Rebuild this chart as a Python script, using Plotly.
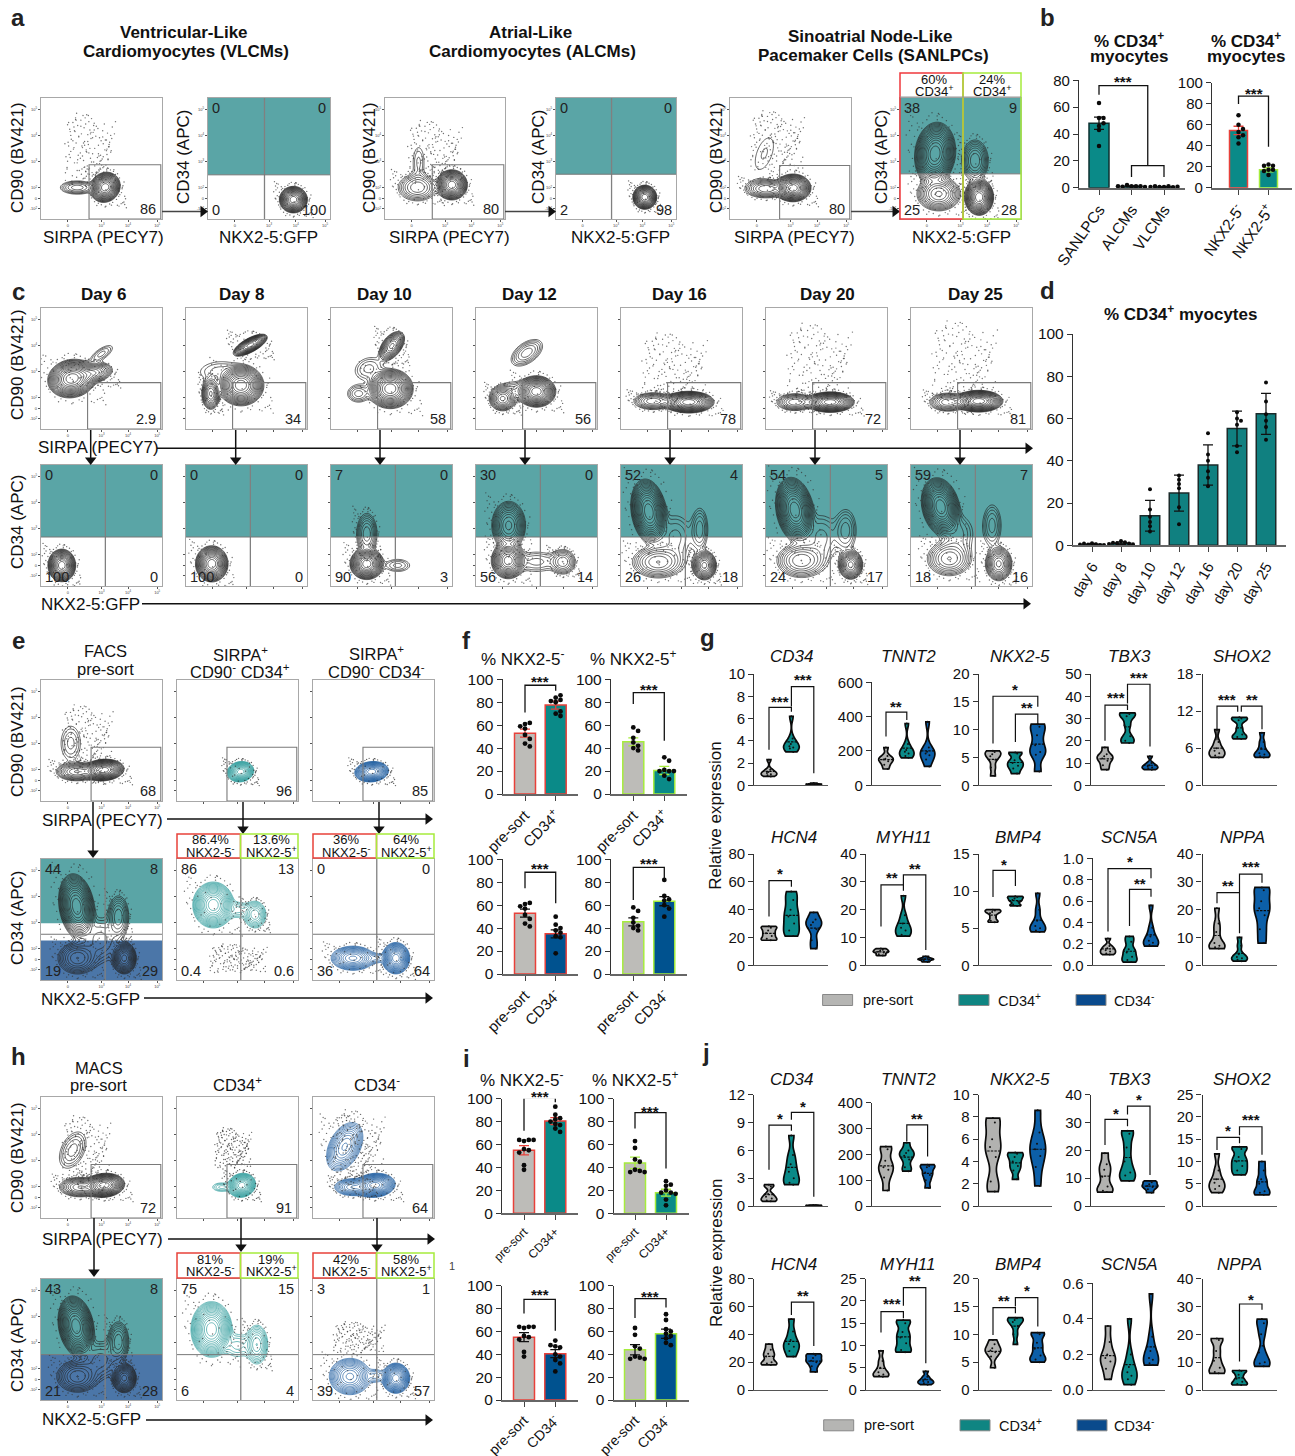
import math
import numpy as np
import plotly.graph_objects as go

W, H = 1295, 1456
FONT = "Liberation Sans"
TEAL = "#0a8a88"; BLUE = "#00528f"; GRAY = "#bdbcb8"; RED = "#e8413a"; GREEN = "#a6ec3c"
TEAL_BG = "#5aa5a6"; BLUE_BG = "#4b76a8"; TEAL_LINE = "#2f9c9c"; BLUE_LINE = "#1c5c9f"; DARK = "#222222"

# ---------- flow plots: blobs (cx, cy, rx, ry, rho, number of rings) in box fractions ----------
A1 = [(.53,.262,.125,.125,.1,14),(.30,.26,.14,.055,0,5)]
A2 = [(.70,.16,.115,.11,0,14)]
A3 = [(.557,.282,.13,.125,0,14),(.27,.26,.16,.11,0,6),(.28,.47,.045,.12,0,2)]
A4 = [(.74,.18,.10,.10,0,14)]
A5 = [(.52,.257,.15,.115,0,14),(.30,.25,.17,.075,0,7),(.284,.54,.075,.13,.5,1)]
A6 = [(.29,.54,.17,.26,.1,14),(.32,.207,.18,.14,0,9),(.654,.18,.12,.15,0,15),(.62,.483,.11,.17,0,7)]
C_TOP = [
 [(.255,.417,.20,.16,.1,14),(.42,.46,.17,.09,.3,9),(.50,.62,.09,.07,.7,3)],
 [(.454,.361,.19,.17,0,14),(.532,.694,.14,.09,.7,12),(.205,.292,.075,.13,0,9),(.26,.486,.14,.07,.2,2)],
 [(.49,.333,.19,.165,0,14),(.503,.686,.105,.12,.5,10),(.31,.5,.11,.09,.2,3),(.227,.292,.09,.07,0,4)],
 [(.50,.31,.16,.13,0,14),(.22,.25,.11,.10,0,9),(.42,.63,.13,.11,.5,5),(.33,.32,.14,.07,0,3)],
 [(.56,.222,.21,.09,0,14),(.267,.23,.16,.07,0,7)],
 [(.53,.222,.20,.085,0,14),(.24,.222,.15,.07,0,7)],
 [(.56,.23,.20,.09,0,14),(.305,.222,.15,.075,0,7)],
]
C_BOT = [
 [(.172,.17,.115,.135,0,14)],
 [(.213,.183,.135,.15,0,14)],
 [(.296,.183,.14,.13,0,14),(.296,.43,.085,.17,0,6),(.55,.17,.10,.05,0,3)],
 [(.266,.21,.14,.15,0,13),(.27,.50,.14,.20,0,10),(.72,.2,.10,.10,0,6),(.5,.2,.16,.08,0,3)],
 [(.23,.614,.15,.27,-.2,14),(.304,.197,.21,.13,0,7),(.689,.17,.10,.12,0,11),(.652,.47,.065,.17,0,4),(.45,.40,.13,.18,0,3)],
 [(.238,.628,.16,.27,-.2,14),(.29,.21,.20,.14,0,7),(.70,.175,.10,.12,0,11),(.66,.46,.085,.17,0,4),(.46,.40,.12,.18,0,3)],
 [(.245,.655,.16,.24,-.2,14),(.315,.225,.18,.14,0,7),(.725,.183,.11,.14,0,10),(.67,.50,.075,.17,0,4),(.39,.43,.12,.15,0,3)],
]
E1 = [(.517,.256,.17,.09,.1,14),(.296,.242,.17,.075,0,8),(.246,.478,.08,.14,0,3)]
E2 = [(.525,.242,.11,.085,.1,14)]
E3 = [(.485,.242,.14,.085,.1,14)]
E4 = [(.295,.608,.15,.27,-.2,14),(.30,.18,.16,.13,0,7),(.688,.18,.10,.13,0,11),(.64,.525,.085,.17,0,6),(.49,.33,.15,.18,0,4)]
E5 = [(.30,.62,.17,.19,0,14),(.645,.54,.09,.11,0,7),(.5,.58,.09,.06,0,3)]
E6 = [(.33,.18,.18,.10,0,10),(.685,.18,.115,.13,0,14),(.52,.18,.06,.035,0,3)]
H1 = [(.522,.27,.17,.10,.1,14),(.323,.255,.17,.08,0,8),(.262,.561,.11,.15,.4,4)]
H2 = [(.535,.27,.115,.10,.1,14),(.37,.255,.075,.035,0,3)]
H3 = [(.262,.589,.15,.20,.4,9),(.51,.27,.17,.10,.1,14),(.33,.255,.15,.07,0,8)]
H4 = [(.29,.61,.15,.25,-.2,14),(.30,.194,.17,.13,0,7),(.688,.18,.10,.12,0,11),(.64,.486,.085,.16,0,6),(.49,.33,.15,.15,0,4)]
H5 = [(.285,.583,.17,.23,0,14),(.66,.458,.09,.16,0,7),(.5,.45,.1,.09,0,3)]
H6 = [(.305,.194,.17,.15,0,10),(.685,.18,.115,.125,0,14),(.52,.2,.06,.05,0,3)]

# sparse event dots, hand-placed in a unit square (tall cloud) and on a unit disc (halo)
CLOUD_X = [.12,.31,.55,.72,.18,.42,.66,.88,.27,.50,.08,.36,.61,.81,.22,.46,.70,.93,.14,.39,.58,.77,.29,.52,.05,.33,.64,.85,.20,.44,.68,.96,.11,.37,.56,.79,.25,.48,.74,.16,.41,.60,.83,.30,.53,.09,.35,.67,.90,.23,.47,.72,.13,.40,.62,.87,.28,.51,.76,.19,.43,.57,.06,.34,.69,.82,.24,.49,.15,.38,.63,.91,.26,.54,.75,.10,.45,.59,.84,.21]
CLOUD_Y = [.05,.09,.04,.12,.17,.14,.21,.08,.24,.19,.28,.26,.15,.31,.34,.30,.27,.18,.41,.37,.35,.22,.44,.40,.11,.47,.33,.38,.52,.49,.43,.25,.56,.54,.46,.51,.60,.58,.39,.65,.62,.53,.45,.68,.66,.36,.72,.57,.48,.75,.71,.63,.78,.80,.69,.55,.83,.77,.59,.87,.85,.74,.42,.90,.67,.64,.93,.88,.70,.96,.82,.50,.99,.92,.76,.61,.97,.86,.73,.81]
HALO_X = [1.18,.95,.55,.1,-.4,-.85,-1.15,-1.05,-.7,-.25,.3,.75,1.08,1.25,.82,.35,-.15,-.6,-1.0,-1.25,-.9,-.45,.05,.5,.9,1.12,.68,.2,-.3,-.78,-1.1,-.95,-.55,.0,.42,1.0]
HALO_Y = [.1,.62,1.05,1.2,1.08,.75,.3,-.4,-.95,-1.15,-1.1,-.8,-.35,.35,.9,1.15,1.3,.98,.55,.05,-.7,-1.05,-1.25,-1.0,-.6,-.1,.85,1.25,1.2,.85,-.15,-.55,-1.2,-1.3,-1.18,.15]

Y_TICKS = [.903,.69,.478,.257,.168,.083]
Y_TICK_TXT = ["10<sup>5</sup>","10<sup>4</sup>","10<sup>3</sup>","10<sup>2</sup>","0","-10<sup>2</sup>"]
X_TICKS = [.221,.50,.72,.96]
X_TICK_TXT = ["0","10<sup>3</sup>","10<sup>4</sup>","10<sup>5</sup>"]

# ---------- bar data ----------
B1_CATS = ["SANLPCs","ALCMs","VLCMs"]; B1_VALS = [48,1,.5]; B1_ERR = [4.5,.3,.3]
B1_PTS = [[63,52,52,46,43,48,31],[1,1,2,1,.8,.5,1],[.5,1,.6,.4,1,.7,.5]]
B2_CATS = ["NKX2-5<sup>-</sup>","NKX2-5<sup>+</sup>"]; B2_VALS = [54.5,17]; B2_ERR = [4,2]
B2_PTS = [[69,60,53,50,48,56,42],[22,21,21,17,17,16,12]]
D_CATS = ["day 6","day 8","day 10","day 12","day 16","day 20","day 25"]
D_VALS = [.5,1,14,24.7,38,55.3,62.2]; D_ERR = [.4,.6,7.3,8.5,9.5,8.2,9.7]
D_PTS = [[1,.5,.3,.2,.8,.1,.4],[2,1.5,1,.8,1.2,.5,.6],[26.5,17,13.5,11,9,6.5],[33,31,29,27,18,10],[53,43,40,35,32,28],[63,60,59,57,47,44],[77,68,62,59,56,50]]

F_PRE_NEG = [61,62,59,57,51.5,48,44,41.5]; F_PRE_POS = [58,55,49,45,42,40,38]
F_VALS = [[53,77.5],[45.5,20.5],[53,35],[45.5,63.5]]
F_ERR = [[3.5,3.5],[3.5,3.5],[3.5,3.5],[3.5,4]]
F_PTS = [[F_PRE_NEG,[84,82,86,81,80,70,68,72]],[F_PRE_POS,[32,29,21,20,20,16,13,20]],
         [F_PRE_NEG,[50,43,40,38,36,33,32,18]],[F_PRE_POS,[82,68,64,65,60,57,50]]]
F_BRK = [(94.8,71,90,100.3),(88.4,78.5,46.5,93.6),(88.7,74.7,61.6,94.2),(93,64.5,82.5,98.8)]
I_PRE_NEG = [63,64,64,64,56,55,53,42,38]; I_PRE_POS = [63,57,47,45,38,37,36,36]
I_VALS = [[55,80.5],[44,18],[55,40.5],[44,58]]
I_ERR = [[4,3],[5,3],[4,3.5],[4.5,4]]
I_PTS = [[I_PRE_NEG,[93,86,83,82,80,78,77,74,71]],[I_PRE_POS,[28,25,24,20,18,18,17,12,7]],
         [I_PRE_NEG,[52,47,46,48,40,38,35,32,25]],[I_PRE_POS,[75,70,62,60,58,56,54,50,48]]]
I_BRK = [(100.9,72,97,104.6),(87.8,74,39,91.6),(88,75.6,60.5,94.5),(88.7,71.8,81,93)]

# ---------- violin data: gene -> (axis max, ticks, [pre-sort, CD34+, CD34-]) ----------
G_DATA = {
 "CD34":(10,[0,2,4,6,8,10],[[.8,.9,1.0,1.1,1.2,1.4,2.3],[3.0,3.3,3.4,3.5,3.7,4.2,6.2],[.03,.05,.08,.1,.1,.12,.2]]),
 "TNNT2":(600,[0,200,400,600],[[95,120,140,150,155,170,220],[160,170,185,195,205,240,360],[110,150,175,185,195,220,370]]),
 "NKX2-5":(20,[0,5,10,15,20],[[1.7,3.2,4.6,5.2,5.6,6.0,6.2],[2.1,3.0,3.5,4.0,4.5,5.7,5.9],[2.5,5.5,6,7.2,9,10.5,11]]),
 "TBX3":(50,[0,10,20,30,40,50],[[7,9,11,12,13,14,17],[19,20,22,27,31,32,32.5],[7,7.5,8,8.5,9,10,13]]),
 "SHOX2":(18,[0,6,12,18],[[4.5,4.8,5.2,5.6,6,7,9],[7.5,7.8,8.2,9.2,10.5,10.8,11],[4.5,4.7,5,5.2,6,7,8.5]]),
 "HCN4":(80,[0,20,40,60,80],[[18,19,21,23,25,27,28],[21,25,30,35,40,47,53],[12,18,26,29,31,33,38]]),
 "MYH11":(40,[0,10,20,30,40],[[3.5,4,4.6,4.9,5.2,5.6,6],[10.5,11,12.5,13.5,15,18,25],[1.2,1.6,2,2.2,2.3,2.6,3.2]]),
 "BMP4":(15,[0,5,10,15],[[5.8,6,6.5,7,7.2,7.4,7.5],[8,8.2,8.6,8.8,9,9.2,9.3],[4.5,4.7,5,5.3,6,7.5,9.7]]),
 "SCN5A":(1.0,[0,.2,.4,.6,.8,1.0],[[.1,.11,.13,.14,.16,.18,.25],[.03,.05,.08,.12,.15,.22,.27],[.18,.19,.21,.23,.27,.35,.56]]),
 "NPPA":(40,[0,10,20,30,40],[[6,6.5,7,8,12,15,20.5],[1.5,2,2.5,3,4,7,10],[8,13,18,20.5,23,27,28]]),
}
J_DATA = {
 "CD34":(12,[0,3,6,9,12],[[.5,.6,.8,1,1.3,2.1,2.3],[2.3,2.5,3,3.7,4.5,5.5,7.6],[.02,.04,.05,.06,.07,.08,.1]]),
 "TNNT2":(400,[0,100,200,300,400],[[60,110,140,150,175,220,230],[135,150,180,195,205,215,245],[70,100,120,130,150,155,160]]),
 "NKX2-5":(10,[0,2,4,6,8,10],[[1.3,2.2,4.4,5.3,6,7.5,7.9],[2.4,3.2,3.6,4,4.4,4.7,4.8],[1.8,3.5,4.5,5.1,5.6,6.6,8.6]]),
 "TBX3":(40,[0,10,20,30,40],[[5,5.5,7,10.5,13,15,19],[9,11,12,16,21,26,27],[4.8,6,6.8,7.2,7.8,8.5,9]]),
 "SHOX2":(25,[0,5,10,15,20,25],[[3,3.8,4.5,5.2,6,8,11.7],[7,8,9,10,11,12.8,13.3],[2.5,3,3.3,5,6,8,10]]),
 "HCN4":(80,[0,20,40,60,80],[[18,19,20,24,26,29,33],[24,28,31,33,36,42,51],[13,17,20,21,23,25,26]]),
 "MYH11":(25,[0,5,10,15,20,25],[[3,3.2,3.5,4,5,6.5,8.8],[8.5,9,10.5,11.8,13,15,15.7],[1.2,1.5,1.8,2,2.4,3,4.2]]),
 "BMP4":(20,[0,5,10,15,20],[[4,6,6.8,7.1,7.5,8.2,9],[8.2,10,11.5,12.2,12.6,12.9,13],[5,5.5,6.2,7.4,8.5,10,10.3]]),
 "SCN5A":(.6,[0,.2,.4,.6],[[.06,.12,.16,.18,.2,.27,.36],[.03,.06,.08,.1,.13,.2,.4],[.14,.15,.17,.18,.22,.3,.54]]),
 "NPPA":(40,[0,10,20,30,40],[[6,6.5,8,10.5,14,18,18.5],[1.8,2.2,3,4,5.5,6.8,7],[8.5,9.5,10,13.5,20,24,25.5]]),
}
# brackets: (x1, x2, top, left leg end, right leg end, stars, star value)
G_BRK = {
 "CD34":[(1,2,7.0,3.2,6.6,"***",7.8),(2,3,8.86,7.07,1.08,"***",9.8)],
 "TNNT2":[(1,2,426,284,381,"**",478)],
 "NKX2-5":[(1,3,16,7.5,14.1,"*",17.8),(2,3,12.8,7.8,10.8,"**",14.6)],
 "TBX3":[(1,2,36,20,33.8,"***",40.9),(2,3,45.4,36.8,17.4,"***",49.9)],
 "SHOX2":[(1,1.92,12.8,7.3,11.9,"***",14.4),(2.08,3,12.8,11.9,9.05,"**",14.4)],
 "HCN4":[(1,2,60.8,35,56.5,"*",67.8)],
 "MYH11":[(1,2,28.9,13.9,26.8,"**",32.5),(2,3,32.5,28.9,5.5,"**",36)],
 "BMP4":[(1,2,12.8,9.2,10.7,"*",14)],
 "SCN5A":[(1,3,.903,.315,.813,"*",.994),(2,3,.71,.368,.64,"**",.79)],
 "NPPA":[(1,2,26.1,22.3,11.5,"**",29.7),(2,3,32.8,26.3,29.7,"***",36.6)],
}
J_BRK = {
 "CD34":[(1,2,8.73,3.9,8.1,"*",9.8),(2,3,10.1,9.3,1,"*",11.1)],
 "TNNT2":[(2,3,314,250,192,"**",350)],
 "NKX2-5":[],
 "TBX3":[(1,2,31.1,21.9,28.7,"*",34.5),(2,3,35.9,32.9,11.1,"*",39.5)],
 "SHOX2":[(1,2,15.4,12.6,14.1,"*",17.6),(2,3,17.8,15.9,11.5,"***",20)],
 "HCN4":[(2,3,63.2,53.9,31.6,"**",70)],
 "MYH11":[(1,2,17.6,12.9,16.1,"***",20),(2,3,23,18.9,6,"**",25.2)],
 "BMP4":[(1,2,14.8,9.9,13.8,"**",16.6),(2,3,16.6,15,11.4,"*",18.4)],
 "SCN5A":[],
 "NPPA":[(2,3,30.9,10.2,28.8,"*",33.5)],
}

fig = go.Figure()
layout = {}
shapes = []
annots = []
arrows = []
axn = [1]

def X(p): return p / W
def Y(p): return 1 - p / H

def new_axes(x0, x1, ytop, ybot, xax, yax):
    axn[0] += 1
    n = axn[0]
    xa = dict(domain=[X(x0), X(x1)], anchor=f"y{n}", layer="above traces")
    xa.update(xax)
    ya = dict(domain=[Y(ybot), Y(ytop)], anchor=f"x{n}", layer="above traces")
    ya.update(yax)
    layout[f"xaxis{n}"] = xa
    layout[f"yaxis{n}"] = ya
    return f"x{n}", f"y{n}"

def txt(x, y, s, size=16, bold=False, color="#111", angle=0, anchor="center", italic=False):
    if bold: s = f"<b>{s}</b>"
    if italic: s = f"<i>{s}</i>"
    annots.append(dict(x=X(x), y=Y(y), xref="paper", yref="paper", text=s, showarrow=False,
                       font=dict(size=size, color=color, family=FONT), textangle=angle,
                       xanchor=anchor, yanchor="middle", align="center"))

def arrow(x0, y0, x1, y1, color="#111", width=1.5):
    arrows.append((x0, y0, x1, y1, color, width))

def rect_paper(x0, y0, x1, y1, line, fill="rgba(0,0,0,0)", width=1.5):
    shapes.append(dict(type="rect", xref="paper", yref="paper", x0=X(x0), x1=X(x1), y0=Y(y1), y1=Y(y0),
                       line=dict(color=line, width=width), fillcolor=fill, layer="above"))

GRID = np.linspace(0, 1, 110)
STEP = .33; START = -4.6; DRAW_STEP = .29

def density(blobs):
    gx, gy = np.meshgrid(GRID, GRID)
    total = np.zeros_like(gx)
    for cx, cy, rx, ry, rho, rings in blobs:
        k = math.sqrt(2 * rings * STEP)
        sx, sy = rx / k, ry / k
        u, v = (gx - cx) / sx, (gy - cy) / sy
        total += math.exp(START + rings * STEP) * np.exp(-(u*u - 2*rho*u*v + v*v) / (2 * (1 - rho*rho)))
    return np.log(total + 1e-12)

def flow(box, ytop, blobs, labels, color=DARK, kind="gate", gate=(.39,.445), split=(.53,.38), bg=None,
         cloud=None, ticklabels=True, width=.7, halo="#333"):
    x0, x1 = box
    ybot = ytop + 121
    kw = dict(range=[0,1], showgrid=False, zeroline=False, showline=True, mirror=True, linecolor="#a8a8a8",
              linewidth=1.3, ticks="outside", ticklen=2, tickwidth=.7, tickcolor="#555",
              showticklabels=ticklabels, tickfont=dict(size=4, color="#444"))
    xa = dict(kw, tickvals=X_TICKS, ticktext=X_TICK_TXT)
    ya = dict(kw, tickvals=Y_TICKS, ticktext=Y_TICK_TXT)
    xr, yr = new_axes(x0, x1, ytop, ybot, xa, ya)
    if bg:
        for (a, b, c) in bg:
            shapes.append(dict(type="rect", xref=xr, yref=yr, x0=0, x1=1, y0=a, y1=b, fillcolor=c,
                               line=dict(width=0), layer="below"))
    dx, dy = [], []
    if cloud:
        ca, cb, cc, cd = cloud
        dx += [ca + (cb - ca) * v for v in CLOUD_X] + [ca + (cb - ca) * v for v in CLOUD_Y]
        dy += [cc + (cd - cc) * v for v in CLOUD_Y] + [cc + (cd - cc) * v for v in reversed(CLOUD_X)]
    for cx, cy, rx, ry, rho, rings in blobs:
        if rings >= 6:
            dx += [cx + rx * v for v in HALO_X] + [cx + 1.08 * rx * v for v in HALO_Y]
            dy += [cy + ry * v for v in HALO_Y] + [cy + 1.08 * ry * v for v in reversed(HALO_X)]
    fig.add_trace(go.Scatter(x=dx, y=dy, mode="markers", xaxis=xr, yaxis=yr, hoverinfo="skip", showlegend=False,
                             marker=dict(size=1.4, color=halo, opacity=.7, line=dict(width=0))))
    fig.add_trace(go.Contour(x=GRID, y=GRID, z=density(blobs), xaxis=xr, yaxis=yr, showscale=False, hoverinfo="skip",
                             contours=dict(coloring="none", start=START, end=.1, size=DRAW_STEP),
                             line=dict(color=color, width=width, smoothing=1)))
    if kind == "gate":
        gx, gy = gate
        shapes.append(dict(type="rect", xref=xr, yref=yr, x0=gx, x1=.99, y0=0, y1=gy,
                           line=dict(color="#7a7a7a", width=1.1), layer="above"))
        annots.append(dict(x=.97, y=.085, xref=xr, yref=yr, text=labels, showarrow=False, xanchor="right",
                           yanchor="middle", font=dict(size=14.5, color="#222", family=FONT)))
    else:
        sx, sy = split
        shapes.append(dict(type="line", xref=xr, yref=yr, x0=sx, x1=sx, y0=0, y1=1,
                           line=dict(color="#808080", width=1.3), layer="above"))
        shapes.append(dict(type="line", xref=xr, yref=yr, x0=0, x1=1, y0=sy, y1=sy,
                           line=dict(color="#777", width=1), layer="above"))
        pos = [(.02,.92,"left"),(.98,.92,"right"),(.02,.075,"left"),(.98,.075,"right")]
        for (lx, ly, an), t in zip(pos, labels):
            annots.append(dict(x=lx, y=ly, xref=xr, yref=yr, text=t, showarrow=False, xanchor=an, yanchor="middle",
                               font=dict(size=14.5, color="#222", family=FONT)))

def swarm(vals, ppu, pxu, gap=4.6):
    placed = []
    out = []
    for v in vals:
        for k in range(0, 12):
            off = ((k + 1) // 2) * (1 if k % 2 else -1) * gap
            if all((off - o)**2 + ((v - w) * ppu)**2 >= gap * gap * .8 for o, w in placed):
                break
        placed.append((off, v))
        out.append(off / pxu)
    return out

def bar_panel(ax0, ax1, ytop, ybase, vmax, ticks, centers, bw, cats, vals, errs, pts, fills, outlines, errcols,
              tickfont=14, catfont=15, angle=-50, dot=5, axis_col="#333"):
    sp = centers[1] - centers[0]
    rng = [(ax0 - centers[0]) / sp + 1, (ax1 - centers[0]) / sp + 1]
    xa = dict(range=rng, type="linear", tickvals=list(range(1, len(cats) + 1)), ticktext=cats, tickangle=angle,
              showgrid=False, zeroline=False, showline=True, linecolor="#666", linewidth=1.6, ticks="outside",
              ticklen=5, tickwidth=1.2, tickcolor="#444", tickfont=dict(size=catfont, color="#111", family=FONT))
    ya = dict(range=[0, vmax], type="linear", tickvals=ticks, showgrid=False, zeroline=False, showline=True,
              linecolor=axis_col, linewidth=1.3, ticks="outside", ticklen=5, tickwidth=1.2, tickcolor=axis_col,
              tickfont=dict(size=tickfont, color="#111", family=FONT))
    xr, yr = new_axes(ax0, ax1, ytop, ybase, xa, ya)
    ppu = (ybase - ytop) / vmax
    for i, c in enumerate(cats):
        fig.add_trace(go.Bar(x=[i + 1], y=[vals[i]], width=bw / sp, xaxis=xr, yaxis=yr, showlegend=False, hoverinfo="skip",
                             marker=dict(color=fills[i], line=dict(color=outlines[i], width=1.5)), cliponaxis=False,
                             error_y=dict(type="data", array=[errs[i]], color=errcols[i], thickness=1.3, width=5)))
        off = swarm(pts[i], ppu, sp, gap=dot)
        fig.add_trace(go.Scatter(x=[i + 1 + o for o in off], y=pts[i], mode="markers", xaxis=xr, yaxis=yr, hoverinfo="skip",
                                 showlegend=False, cliponaxis=False, marker=dict(size=dot, color="#0a0a0a")))
    return xr, yr

def to_paper(xr, yr, x, y):
    xa = layout["xaxis" + xr[1:]]; ya = layout["yaxis" + yr[1:]]
    px = xa["domain"][0] + (x - xa["range"][0]) / (xa["range"][1] - xa["range"][0]) * (xa["domain"][1] - xa["domain"][0])
    py = ya["domain"][0] + (y - ya["range"][0]) / (ya["range"][1] - ya["range"][0]) * (ya["domain"][1] - ya["domain"][0])
    return px, py

def bracket(xr, yr, x1, x2, top, l, r, stars, sy, size=15, width=1.3):
    fig.add_trace(go.Scatter(x=[x1, x1, x2, x2], y=[l, top, top, r], mode="lines", xaxis=xr, yaxis=yr, hoverinfo="skip",
                             showlegend=False, cliponaxis=False, line=dict(color="#111", width=width)))
    if stars:
        px, py = to_paper(xr, yr, (x1 + x2) / 2, sy)
        annots.append(dict(x=px, y=py, xref="paper", yref="paper", text=f"<b>{stars}</b>", showarrow=False, yshift=-3,
                           xanchor="center", yanchor="middle", font=dict(size=size, color="#111", family=FONT)))

# ---------- panel a ----------
txt(184, 32, "Ventricular-Like", 17, True); txt(186, 52, "Cardiomyocytes (VLCMs)", 17, True)
txt(530, 32, "Atrial-Like", 17, True); txt(532, 52, "Cardiomyocytes (ALCMs)", 17, True)
txt(870, 36, "Sinoatrial Node-Like", 17, True); txt(873, 56, "Pacemaker Cells (SANLPCs)", 17, True)
CA = (.18,.62,.25,.88)
flow((41,162),98,A1,"86",cloud=CA,gate=(.397,.448))
flow((208,330),98,A2,["0","0","0","100"],kind="quad",split=(.463,.365),bg=[(.365,1,TEAL_BG)])
flow((385,505),98,A3,"80",cloud=(.17,.65,.28,.82),gate=(.394,.448))
flow((556,676),98,A4,["0","0","2","98"],kind="quad",split=(.463,.37),bg=[(.37,1,TEAL_BG)])
flow((730,851),98,A5,"80",cloud=(.15,.62,.38,.9),gate=(.41,.442))
flow((900,1021),98,A6,["38","9","25","28"],kind="quad",split=(.522,.373),bg=[(.373,1,TEAL_BG)])
rect_paper(900,73,963,219,"#f0383c"); rect_paper(963,73,1021,219,GREEN)
shapes.append(dict(type="line",xref="paper",yref="paper",x0=X(900),x1=X(1021),y0=Y(97),y1=Y(97),line=dict(color="#999",width=1),layer="above"))
txt(934,79,"60%",13); txt(934,91,"CD34<sup>+</sup>",13); txt(992,79,"24%",13); txt(992,91,"CD34<sup>+</sup>",13)
for x, y, s, ang in [(17,158,"CD90 (BV421)",-90),(183,157,"CD34 (APC)",-90),(369,158,"CD90 (BV421)",-90),(538,157,"CD34 (APC)",-90),
                     (716,158,"CD90 (BV421)",-90),(881,157,"CD34 (APC)",-90)]:
    txt(x,y,s,17,angle=ang)
for x, s in [(103,"SIRPA (PECY7)"),(268,"NKX2-5:GFP"),(449,"SIRPA (PECY7)"),(620,"NKX2-5:GFP"),(794,"SIRPA (PECY7)"),(961,"NKX2-5:GFP")]:
    txt(x,238,s,17)
for a, b in [(162,208),(505,556),(851,900)]:
    arrow(a,211.5,b,211.5,"#444",1.4)

# ---------- panel b ----------
txt(1129,40,"% CD34<sup>+</sup>",17,True); txt(1129,57,"myocytes",17,True)
txt(1246,40,"% CD34<sup>+</sup>",17,True); txt(1246,57,"myocytes",17,True)
r = bar_panel(1079,1185,80.3,187.7,80,[0,20,40,60,80],[1099,1131.5,1163],20,B1_CATS,B1_VALS,B1_ERR,B1_PTS,
              [TEAL,TEAL,TEAL],["#0d2f2f"]*3,["#111"]*3,tickfont=15,catfont=15.5,angle=-55,dot=4.5)
bracket(*r,1,2.5,76,69.3,16.4,"***",81.5,size=15)
bracket(*r,2,3,16.4,8,8,"",0)
r = bar_panel(1212,1292,82.7,187.7,100,[0,20,40,60,80,100],[1238.5,1268.5],18,B2_CATS,B2_VALS,B2_ERR,B2_PTS,
              [TEAL,TEAL],[RED,GREEN],[RED,GREEN],tickfont=15,catfont=15.5,angle=-55,dot=4.5)
bracket(*r,1,2,87.3,79.7,39,"***",92.5)

# ---------- panel c ----------
C_X = [(41,162),(186,307),(331,452),(476,597),(621,742),(766,887),(911,1032)]
C_TOP_LBL = ["2.9","34","58","56","78","72","81"]
C_BOT_LBL = [["0","0","100","0"],["0","0","100","0"],["7","0","90","3"],["30","0","56","14"],["52","4","26","18"],["54","5","24","17"],["59","7","18","16"]]
DAY_T = ["Day 6","Day 8","Day 10","Day 12","Day 16","Day 20","Day 25"]
DAY_CX = [103,241,384,529,680,827,975]
CLOUDS = [None,None,None,None,(.15,.72,.22,.8),(.15,.72,.22,.88),(.15,.72,.22,.9)]
ARX = [90.7,235.7,380,525,670,815,960]
for i in range(7):
    flow(C_X[i],308,C_TOP[i],C_TOP_LBL[i],cloud=CLOUDS[i],gate=(.385,.383),ticklabels=i==0)
    flow(C_X[i],465,C_BOT[i],C_BOT_LBL[i],kind="quad",split=(.532,.405),bg=[(.405,1,TEAL_BG)],ticklabels=i==0)
    txt(DAY_CX[i],295,DAY_T[i],17,True)
    arrow(ARX[i],430,ARX[i],465)
txt(17,365,"CD90 (BV421)",17,angle=-90); txt(17,522,"CD34 (APC)",17,angle=-90)
txt(99,447,"SIRPA (PECY7)",17); txt(90,604,"NKX2-5:GFP",17)
arrow(157,448.3,1033,448.3); arrow(142,603.7,1031,603.7)

# ---------- panel d ----------
txt(1180.6,313,"% CD34<sup>+</sup> myocytes",17,True)
bar_panel(1073,1286,334,545.3,100,[0,20,40,60,80,100],[1092,1121,1149.6,1178,1207,1236,1264],19.5,D_CATS,D_VALS,D_ERR,D_PTS,
          ["#108080"]*7,["#1b2b2b"]*7,["#111"]*7,tickfont=15.5,catfont=15,angle=-60,dot=4)

# ---------- panel e ----------
txt(105,651,"FACS",16.5); txt(105,669,"pre-sort",16.5)
txt(240,654,"SIRPA<sup>+</sup>",16.5); txt(240,671,"CD90<sup>-</sup> CD34<sup>+</sup>",16.5)
txt(376,653,"SIRPA<sup>+</sup>",16.5); txt(376,671,"CD90<sup>-</sup> CD34<sup>-</sup>",16.5)
R1 = [(41,162),(177,298),(313,434)]
flow(R1[0],680,E1,"68",cloud=(.16,.6,.28,.8),gate=(.414,.444))
flow(R1[1],680,E2,"96",color=TEAL_LINE,gate=(.413,.444),ticklabels=False,halo="#222")
flow(R1[2],680,E3,"85",color=BLUE_LINE,gate=(.413,.444),ticklabels=False,halo="#222")
flow(R1[0],859,E4,["44","8","19","29"],kind="quad",split=(.53,.378),bg=[(.47,1,TEAL_BG),(0,.326,BLUE_BG)])
flow(R1[1],859,E5,["86","13","0.4","0.6"],color=TEAL_LINE,kind="quad",split=(.527,.378),ticklabels=False,cloud=(.25,.75,.05,.3))
flow(R1[2],859,E6,["0","0","36","64"],color=BLUE_LINE,kind="quad",split=(.527,.378),ticklabels=False)
def headers(yt, yb, t):
    rect_paper(177,yt,240.5,yb,RED); rect_paper(240.5,yt,298,yb,GREEN)
    rect_paper(313,yt,376.5,yb,RED); rect_paper(376.5,yt,434,yb,GREEN)
    for cx, a, b in zip([210,271,346,406], t, ["NKX2-5<sup>-</sup>","NKX2-5<sup>+</sup>"]*2):
        txt(cx,yt+6,a,13); txt(cx,yt+18,b,13)
headers(834,858,["86.4%","13.6%","36%","64%"])
txt(17,742,"CD90 (BV421)",17,angle=-90); txt(17,918,"CD34 (APC)",17,angle=-90)
txt(102,820,"SIRPA (PECY7)",17); txt(90,999,"NKX2-5:GFP",17)
arrow(93,802,93,858); arrow(243,802,243,834); arrow(379,802,379,834)
arrow(167,819,433,819); arrow(144,998,433,998)

# ---------- panel h ----------
txt(99,1068,"MACS",16.5); txt(99,1085,"pre-sort",16.5); txt(237,1084,"CD34<sup>+</sup>",16.5); txt(377,1084,"CD34<sup>-</sup>",16.5)
flow(R1[0],1097,H1,"72",cloud=(.16,.58,.3,.85),gate=(.414,.442))
flow(R1[1],1097,H2,"91",color=TEAL_LINE,gate=(.413,.442),ticklabels=False,cloud=(.3,.62,.4,.75),halo="#222")
flow(R1[2],1097,H3,"64",color=BLUE_LINE,gate=(.413,.442),ticklabels=False,cloud=(.15,.6,.35,.9))
flow(R1[0],1279,H4,["43","8","21","28"],kind="quad",split=(.53,.375),bg=[(.375,1,TEAL_BG),(0,.375,BLUE_BG)])
flow(R1[1],1279,H5,["75","15","6","4"],color=TEAL_LINE,kind="quad",split=(.527,.375),ticklabels=False)
flow(R1[2],1279,H6,["3","1","39","57"],color=BLUE_LINE,kind="quad",split=(.527,.375),ticklabels=False,cloud=(.15,.6,.38,.65))
headers(1253,1278,["81%","19%","42%","58%"])
txt(17,1158,"CD90 (BV421)",17,angle=-90); txt(17,1345,"CD34 (APC)",17,angle=-90)
txt(102,1239,"SIRPA (PECY7)",17); txt(92,1419,"NKX2-5:GFP",17)
arrow(94,1218,94,1277); arrow(241,1218,241,1252); arrow(377,1218,377,1252)
arrow(168,1239,435,1239); arrow(146,1420,433,1420)
txt(452,1266,"1",11,color="#444")

# ---------- panels f / i ----------
def bars4(px_left, rows, vals, errs, pts, brks, cats_top, cats_bot, catfont_top, catfont_bot):
    fills = [[GRAY,TEAL],[GRAY,TEAL],[GRAY,BLUE],[GRAY,BLUE]]
    outl = [[RED,RED],[GREEN,GREEN],[RED,RED],[GREEN,GREEN]]
    ecol = [[RED,RED],[GREEN,GREEN],["#111","#111"],["#111","#111"]]
    for k in range(4):
        row = k // 2
        ax0, ax1, c1, c2 = px_left[k % 2]
        cats = cats_top if row == 0 else cats_bot
        xr, yr = bar_panel(ax0,ax1,rows[row][0],rows[row][1],100,[0,20,40,60,80,100],[c1,c2],21,cats,vals[k],errs[k],pts[k],
                           fills[k],outl[k],ecol[k],tickfont=15.5,catfont=catfont_top if row==0 else catfont_bot,angle=-45,dot=4.8)
        t, l, rr, s = brks[k]
        bracket(xr,yr,1,2,t,l,rr,"***",s,size=15)

txt(522.7,657.5,"% NKX2-5<sup>-</sup>",17); txt(633,657.5,"% NKX2-5<sup>+</sup>",17)
bars4([(502.7,578,525,555.7),(611,687,633.3,664.3)],[(679.3,794),(859.3,974)],F_VALS,F_ERR,F_PTS,F_BRK,
      ["pre-sort","CD34<sup>+</sup>"],["pre-sort","CD34<sup>-</sup>"],15,15)
txt(521.7,1079,"% NKX2-5<sup>-</sup>",17); txt(635,1079,"% NKX2-5<sup>+</sup>",17)
bars4([(502,578,524,555.3),(613.7,689,635,666)],[(1098.7,1213.3),(1285.7,1400)],I_VALS,I_ERR,I_PTS,I_BRK,
      ["pre-sort","CD34+"],["pre-sort","CD34<sup>-</sup>"],12,14)

# ---------- panels g / j ----------
GENES = [["CD34","TNNT2","NKX2-5","TBX3","SHOX2"],["HCN4","MYH11","BMP4","SCN5A","NPPA"]]
COLS = [[(754.3,828,769,22.4),(872,940.6,886,20.8),(978.6,1052,993,22.4),(1091,1164.5,1105,22.5),(1202.5,1277,1217,22.5)],
        [(754.3,828,769,22.4),(866,940.6,881,22.4),(978.6,1052,993,22.4),(1092.8,1164.5,1108,21.5),(1202.5,1277,1217,22.5)]]
TITLE_X = [[791,908.7,1020,1129,1242],[793.7,903,1017.6,1129,1242]]
VFILL = ["#b2b2b0", "#0a8a88", "#0c5fa8"]

def violin_block(data, brk, y_rows, title_y, title_x, top_over):
    for r_i, genes in enumerate(GENES):
        ytop, ybase = y_rows[r_i]
        for c_i, g in enumerate(genes):
            ax0, ax1, c1, sp = COLS[r_i][c_i]
            vmax, ticks, groups = data[g]
            top = top_over.get(g, ytop)
            xa = dict(range=[(ax0 - c1)/sp + 1, (ax1 - c1)/sp + 1], type="linear", showgrid=False, zeroline=False,
                      showline=True, linecolor="#555", linewidth=1.4, ticks="", showticklabels=False)
            ya = dict(range=[0, vmax], type="linear", tickmode="array", tickvals=ticks,
                      ticktext=[f"{t:.1f}" for t in ticks] if vmax <= 1 else [str(t) for t in ticks],
                      showgrid=False, zeroline=False, showline=True, linecolor="#333", linewidth=1.2, ticks="outside",
                      ticklen=5, tickwidth=1.1, tickcolor="#333", tickfont=dict(size=15, color="#111", family=FONT))
            xr, yr = new_axes(ax0, ax1, top, ybase, xa, ya)
            for i, pts in enumerate(groups):
                fig.add_trace(go.Violin(y=pts, x0=i + 1, xaxis=xr, yaxis=yr, width=.7, spanmode="hard",
                                        bandwidth=(max(pts) - min(pts)) * .13, scalemode="width", side="both",
                                        fillcolor=VFILL[i], line=dict(color="#0a0a0a", width=1.7),
                                        points="all", pointpos=0, jitter=.45,
                                        marker=dict(size=2, color="#111"), showlegend=False, hoverinfo="skip",
                                        meanline=dict(visible=True, color="#0a0a0a", width=1.2), box=dict(visible=False)))
            for b in brk[g]:
                bracket(xr, yr, *b, size=15, width=1.2)
            txt(title_x[r_i][c_i], title_y[r_i], g, 17, italic=True)

violin_block(G_DATA, G_BRK, [(674,785.3),(854,965.3)], [657,837.7], TITLE_X, {"TNNT2":682.3,"SCN5A":858.3})
TITLE_J = [[791,908.7,1020,1129,1242],[793.7,907,1017.6,1129,1239.6]]
violin_block(J_DATA, J_BRK, [(1094.7,1206),(1278.7,1390)], [1079.3,1264], TITLE_J, {"TNNT2":1102.7,"SCN5A":1283.3})
txt(716,815.7,"Relative expression",17,angle=-90)
txt(716,1253,"Relative expression",17,angle=-90)

def legend(y, rects, xs):
    cols = ["#b5b5b3","#0f8582","#0a4a8c"]
    names = ["pre-sort","CD34<sup>+</sup>","CD34<sup>-</sup>"]
    for (a, b), x, c, n in zip(rects, xs, cols, names):
        rect_paper(a,y-5.5,b,y+5.5,"#888",fill=c,width=1)
        txt(x,y,n,14.5,anchor="left")
legend(1000,[(822.6,852.6),(958.8,989),(1076,1106)],[861,996,1111.8])
legend(1425.3,[(823.7,853.7),(960,990),(1077,1107)],[862.4,996.8,1111.8])

# ---------- panel letters ----------
for s, x, y in [("a",18,18),("b",1047,18),("c",18,292),("d",1047,291),("e",18,640),("f",466,640),("g",708,637),
                ("h",18,1056),("i",466,1058),("j",706,1052)]:
    txt(x,y,s,24,True,color="#222")

# ---------- overlay with the gating arrows, in page pixels ----------
xr, yr = new_axes(0, W, 0, H, dict(range=[0,W], visible=False, fixedrange=True), dict(range=[H,0], visible=False, fixedrange=True))
for x0, y0, x1, y1, c, w in arrows:
    ang = math.degrees(math.atan2(y1 - y0, x1 - x0))
    ex = x1 - 5 * math.cos(math.radians(ang)); ey = y1 - 5 * math.sin(math.radians(ang))
    fig.add_trace(go.Scatter(x=[x0, ex], y=[y0, ey], mode="lines", xaxis=xr, yaxis=yr, hoverinfo="skip", showlegend=False,
                             line=dict(color=c, width=w)))
    fig.add_trace(go.Scatter(x=[ex], y=[ey], mode="markers", xaxis=xr, yaxis=yr, hoverinfo="skip", showlegend=False,
                             marker=dict(symbol="triangle-right" if abs(ang) < 45 else "triangle-down", size=10, color="#111",
                                         line=dict(width=0))))

fig.update_layout(width=W, height=H, margin=dict(l=0,r=0,t=0,b=0,autoexpand=False), paper_bgcolor="white",
                  plot_bgcolor="rgba(0,0,0,0)",
                  font=dict(family=FONT, color="#111"), showlegend=False, barmode="overlay", violinmode="overlay",
                  shapes=shapes, annotations=annots, **layout)
fig.write_html("out.html", config=dict(displayModeBar=False),
               post_script="document.body.style.margin='0';")
